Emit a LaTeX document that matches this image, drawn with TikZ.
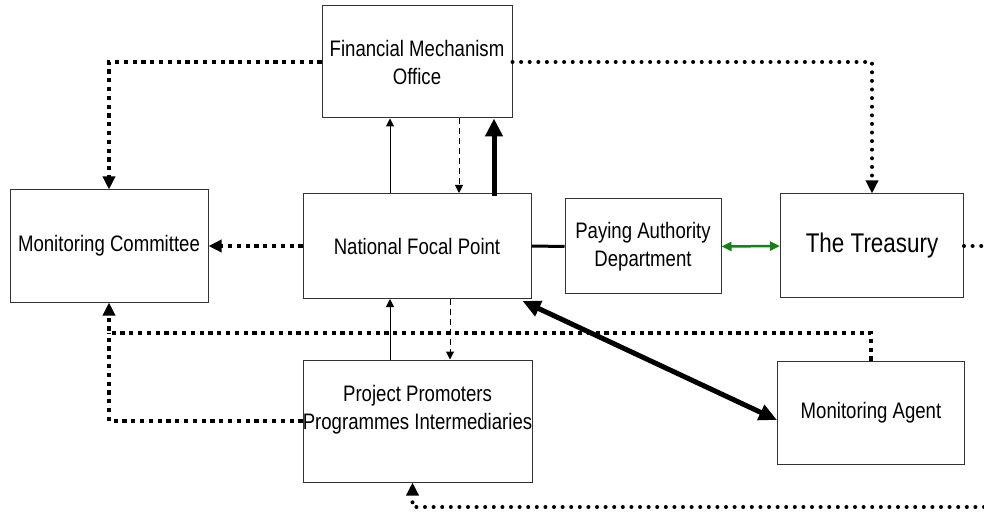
\documentclass[tikz,border=0pt]{standalone}
\usepackage{fontspec}
\setmainfont{Liberation Sans}[FakeStretch=0.83]
\usetikzlibrary{arrows.meta,calc}
\definecolor{pagreen}{RGB}{20,130,20}
\begin{document}
\begin{tikzpicture}[x=1pt,y=-1pt,
		box/.style={draw=black!80,line width=1pt,inner sep=0pt,align=center,font=\fontsize{22.4}{28}\selectfont},
		sqdot/.style={line width=4pt,dash pattern=on 4.2pt off 4.6pt},
		rddot/.style={line width=4pt,line cap=round,dash pattern=on 0pt off 8.6pt},
		dsh/.style={line width=1pt,dash pattern=on 6pt off 4pt},
		tipS/.style={-{Triangle[length=8pt,width=8pt]}},
		tipD/.style={-{Triangle[length=13pt,width=12pt]}},
		tipB/.style={-{Triangle[length=18pt,width=17pt]}}]
	\useasboundingbox (0,0) rectangle (984,518);
	% boxes
	\node[box,minimum width=190pt,minimum height=112pt] (fmo) at (417,62) {Financial Mechanism\\Office};
	\node[box,minimum width=198pt,minimum height=112pt] (mc) at (109,246) {Monitoring Committee};
	\node[box,minimum width=228pt,minimum height=105pt] (nfp) at (417,246) {National Focal Point};
	\node[box,minimum width=156pt,minimum height=95pt] (pa) at (643,246.5) {Paying Authority\\Department};
	\node[box,minimum width=183pt,minimum height=104pt,font=\fontsize{27}{32}\selectfont] (tr) at (872,246) {The Treasury};
	\node[box,minimum width=229pt,minimum height=122pt] (pp) at (417.5,421) {};
	\node[align=center,font=\fontsize{22.4}{28}\selectfont] (pptext) at ([yshift=11pt]pp.center) {Project Promoters\\Programmes Intermediaries};
	\node[box,minimum width=187pt,minimum height=103pt] (ma) at (871,412.5) {Monitoring Agent};
	\coordinate (bend) at ($(mc.south)+(0,30)$);
	\coordinate (trout) at (984,246);
	\coordinate (ppin) at (984,507);
	% dotted links
	\draw[sqdot,tipD] (fmo.west) -| (mc.north);
	\draw[rddot,tipD] (fmo.east) -| (tr.north);
	\draw[sqdot,tipD] (nfp.west) -- (mc.east);
	\draw[sqdot,tipD] (ma.north) |- (bend) -- (mc.south);
	\draw[sqdot] (pp.west) -| (bend);
	\draw[rddot] (tr.east) -- (trout);
	\draw[rddot,tipD] (ppin) -| ([xshift=-5pt]pp.south);
	% NFP and FMO
	\draw[line width=1pt,tipS] ([xshift=-27pt]nfp.north) -- ([xshift=-27pt]fmo.south);
	\draw[dsh,tipS] ([xshift=42pt]fmo.south) -- ([xshift=42pt]nfp.north);
	\draw[line width=5pt,tipB] ([xshift=77pt,yshift=-3pt]nfp.north) -- ([xshift=77pt]fmo.south);
	% NFP and PP
	\draw[line width=1pt,tipS] ([xshift=-27.5pt]pp.north) -- ([xshift=-27pt]nfp.south);
	\draw[dsh,tipS] ([xshift=33pt]nfp.south) -- ([xshift=32.5pt]pp.north);
	% payments
	\draw[line width=3pt] (nfp.east) -- (pa.west);
	\draw[line width=2.5pt,pagreen,{Triangle[length=10pt,width=9pt]}-{Triangle[length=10pt,width=9pt]}] (pa.east) -- (tr.west);
	\draw[line width=5pt,{Triangle[length=18pt,width=16pt]}-{Triangle[length=18pt,width=16pt]}] ([xshift=-9pt,yshift=-2pt]nfp.south east) -- ([yshift=-7.5pt]ma.west);
\end{tikzpicture}
\end{document}
